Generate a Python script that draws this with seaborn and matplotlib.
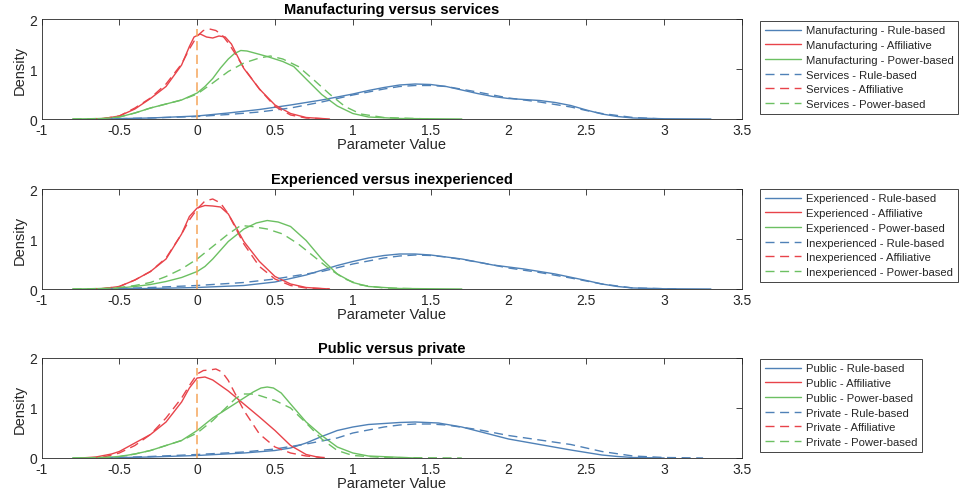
import matplotlib
matplotlib.use("Agg")
import matplotlib.pyplot as plt
import seaborn as sns
import pandas as pd

# ---------------- data ----------------
panel_titles = ["Manufacturing versus services",
                "Experienced versus inexperienced",
                "Public versus private"]
group_a = ["Manufacturing", "Experienced", "Public"]
group_b = ["Services", "Inexperienced", "Private"]
styles = ["Rule-based", "Affiliative", "Power-based"]

x_ticks = [-1, -0.5, 0, 0.5, 1, 1.5, 2, 2.5, 3, 3.5]
x_tick_labels = ["-1", "-0.5", "0", "0.5", "1", "1.5", "2", "2.5", "3", "3.5"]
y_ticks = [0, 1, 2]
zero_line_x = [0, 0]
zero_line_y = [0, 1.8]

# Panel 1 : Manufacturing (solid) vs Services (dashed)
p1_a_rule_x = [-0.6, -0.3, 0, 0.2, 0.4, 0.6, 0.8, 1.0, 1.1, 1.2, 1.3, 1.4, 1.5, 1.6, 1.7, 1.8, 1.9, 2.0, 2.1, 2.2, 2.3, 2.4, 2.5, 2.6, 2.7, 2.8, 3.0, 3.3]
p1_a_rule_y = [0, 0.02, 0.06, 0.12, 0.19, 0.28, 0.38, 0.5, 0.57, 0.63, 0.68, 0.7, 0.69, 0.65, 0.58, 0.51, 0.45, 0.41, 0.39, 0.37, 0.33, 0.27, 0.18, 0.1, 0.05, 0.02, 0.005, 0]
p1_b_rule_x = [-0.6, -0.3, 0, 0.2, 0.4, 0.6, 0.8, 1.0, 1.2, 1.3, 1.4, 1.5, 1.6, 1.8, 2.0, 2.2, 2.4, 2.5, 2.6, 2.8, 3.0]
p1_b_rule_y = [0, 0.02, 0.05, 0.09, 0.14, 0.22, 0.34, 0.48, 0.6, 0.65, 0.67, 0.67, 0.65, 0.54, 0.42, 0.34, 0.24, 0.17, 0.11, 0.03, 0]
p1_a_aff_x = [-0.7, -0.6, -0.5, -0.4, -0.3, -0.2, -0.1, -0.05, -0.02, 0.02, 0.06, 0.1, 0.14, 0.18, 0.22, 0.26, 0.3, 0.4, 0.5, 0.6, 0.7, 0.85]
p1_a_aff_y = [0, 0.01, 0.06, 0.2, 0.41, 0.65, 1.08, 1.45, 1.64, 1.7, 1.64, 1.62, 1.66, 1.64, 1.5, 1.25, 1.01, 0.6, 0.28, 0.11, 0.03, 0]
p1_b_aff_x = [-0.7, -0.6, -0.5, -0.4, -0.3, -0.2, -0.1, -0.05, 0, 0.04, 0.08, 0.12, 0.16, 0.2, 0.25, 0.3, 0.4, 0.5, 0.6, 0.7, 0.85]
p1_b_aff_y = [0, 0.01, 0.06, 0.22, 0.42, 0.7, 1.1, 1.4, 1.66, 1.77, 1.8, 1.77, 1.68, 1.52, 1.28, 1.02, 0.6, 0.25, 0.08, 0.02, 0]
p1_a_pow_x = [-0.8, -0.6, -0.5, -0.4, -0.3, -0.2, -0.1, 0, 0.05, 0.1, 0.15, 0.2, 0.24, 0.28, 0.32, 0.38, 0.45, 0.55, 0.62, 0.7, 0.8, 0.9, 1.0, 1.1, 1.3, 1.7]
p1_a_pow_y = [0, 0.01, 0.04, 0.12, 0.22, 0.3, 0.38, 0.52, 0.65, 0.81, 1.02, 1.2, 1.31, 1.37, 1.36, 1.31, 1.25, 1.15, 1.05, 0.8, 0.49, 0.26, 0.11, 0.04, 0.01, 0]
p1_b_pow_x = [-0.8, -0.6, -0.5, -0.4, -0.3, -0.2, -0.1, 0, 0.1, 0.2, 0.3, 0.4, 0.47, 0.55, 0.65, 0.75, 0.85, 0.95, 1.05, 1.2, 1.5]
p1_b_pow_y = [0, 0.01, 0.04, 0.12, 0.22, 0.3, 0.38, 0.5, 0.72, 0.95, 1.12, 1.22, 1.26, 1.2, 1.05, 0.78, 0.5, 0.25, 0.1, 0.03, 0]

# Panel 2 : Experienced (solid) vs Inexperienced (dashed)
p2_a_rule_x = [-0.6, -0.3, 0, 0.3, 0.5, 0.7, 0.9, 1.0, 1.1, 1.2, 1.3, 1.4, 1.5, 1.7, 1.9, 2.1, 2.3, 2.5, 2.6, 2.7, 2.8, 3.0, 3.3]
p2_a_rule_y = [0, 0.01, 0.03, 0.07, 0.14, 0.28, 0.47, 0.55, 0.62, 0.67, 0.7, 0.7, 0.68, 0.6, 0.48, 0.4, 0.3, 0.17, 0.1, 0.05, 0.02, 0.005, 0]
p2_b_rule_x = [-0.6, -0.3, 0, 0.3, 0.5, 0.8, 1.0, 1.2, 1.3, 1.4, 1.5, 1.6, 1.8, 2.0, 2.2, 2.4, 2.6, 2.8, 3.1]
p2_b_rule_y = [0, 0.03, 0.07, 0.13, 0.2, 0.35, 0.5, 0.62, 0.66, 0.68, 0.67, 0.64, 0.54, 0.42, 0.33, 0.22, 0.1, 0.02, 0]
p2_a_aff_x = [-0.7, -0.6, -0.5, -0.4, -0.3, -0.2, -0.1, -0.05, 0, 0.05, 0.1, 0.15, 0.2, 0.25, 0.3, 0.4, 0.5, 0.6, 0.7, 0.85]
p2_a_aff_y = [0, 0.01, 0.05, 0.18, 0.35, 0.6, 1.1, 1.45, 1.62, 1.67, 1.66, 1.64, 1.5, 1.23, 0.95, 0.55, 0.25, 0.1, 0.03, 0]
p2_b_aff_x = [-0.7, -0.6, -0.5, -0.4, -0.3, -0.2, -0.1, -0.05, 0, 0.05, 0.1, 0.15, 0.2, 0.25, 0.3, 0.4, 0.5, 0.6, 0.7, 0.85]
p2_b_aff_y = [0, 0.01, 0.05, 0.18, 0.35, 0.62, 1.1, 1.38, 1.6, 1.76, 1.8, 1.72, 1.5, 1.2, 0.9, 0.45, 0.2, 0.07, 0.02, 0]
p2_a_pow_x = [-0.8, -0.6, -0.5, -0.4, -0.3, -0.2, -0.1, 0, 0.05, 0.1, 0.2, 0.3, 0.38, 0.45, 0.52, 0.6, 0.7, 0.8, 0.9, 1.0, 1.1, 1.3, 1.7]
p2_a_pow_y = [0, 0.01, 0.02, 0.05, 0.09, 0.15, 0.23, 0.35, 0.45, 0.6, 0.95, 1.2, 1.32, 1.37, 1.34, 1.25, 0.97, 0.6, 0.3, 0.13, 0.05, 0.01, 0]
p2_b_pow_x = [-0.8, -0.6, -0.5, -0.4, -0.3, -0.2, -0.1, 0, 0.1, 0.2, 0.28, 0.35, 0.45, 0.55, 0.65, 0.75, 0.85, 0.95, 1.05, 1.2, 1.5]
p2_b_pow_y = [0, 0.01, 0.03, 0.07, 0.13, 0.25, 0.4, 0.6, 0.85, 1.1, 1.27, 1.25, 1.2, 1.1, 0.9, 0.65, 0.4, 0.2, 0.08, 0.02, 0]

# Panel 3 : Public (solid) vs Private (dashed)
p3_a_rule_x = [-0.6, -0.3, 0, 0.3, 0.5, 0.6, 0.7, 0.8, 0.9, 1.0, 1.1, 1.2, 1.3, 1.4, 1.55, 1.7, 1.85, 2.0, 2.2, 2.4, 2.5, 2.6, 2.7, 2.8, 3.0]
p3_a_rule_y = [0, 0.02, 0.05, 0.1, 0.15, 0.2, 0.3, 0.43, 0.55, 0.62, 0.67, 0.69, 0.71, 0.72, 0.7, 0.62, 0.5, 0.38, 0.27, 0.16, 0.11, 0.06, 0.03, 0.01, 0]
p3_b_rule_x = [-0.6, -0.3, 0, 0.3, 0.5, 0.7, 0.9, 1.0, 1.2, 1.3, 1.4, 1.5, 1.6, 1.8, 2.0, 2.2, 2.4, 2.6, 2.8, 3.0, 3.25]
p3_b_rule_y = [0, 0.03, 0.07, 0.12, 0.18, 0.28, 0.4, 0.5, 0.62, 0.66, 0.68, 0.68, 0.66, 0.57, 0.45, 0.36, 0.27, 0.13, 0.04, 0.01, 0]
p3_a_aff_x = [-0.75, -0.65, -0.55, -0.5, -0.4, -0.3, -0.2, -0.1, -0.05, 0, 0.05, 0.1, 0.2, 0.3, 0.4, 0.5, 0.6, 0.7, 0.8]
p3_a_aff_y = [0, 0.02, 0.08, 0.13, 0.3, 0.47, 0.72, 1.12, 1.4, 1.6, 1.62, 1.56, 1.34, 1.08, 0.82, 0.55, 0.25, 0.07, 0]
p3_b_aff_x = [-0.7, -0.6, -0.5, -0.4, -0.3, -0.2, -0.1, -0.05, 0, 0.04, 0.08, 0.12, 0.16, 0.2, 0.25, 0.3, 0.4, 0.5, 0.6, 0.7, 0.85]
p3_b_aff_y = [0, 0.02, 0.1, 0.25, 0.47, 0.8, 1.2, 1.45, 1.68, 1.75, 1.76, 1.78, 1.72, 1.55, 1.25, 0.95, 0.48, 0.22, 0.1, 0.04, 0]
p3_a_pow_x = [-0.8, -0.6, -0.5, -0.4, -0.3, -0.2, -0.1, 0, 0.1, 0.2, 0.3, 0.36, 0.41, 0.45, 0.49, 0.54, 0.6, 0.7, 0.8, 0.9, 1.0, 1.1, 1.4]
p3_a_pow_y = [0, 0.01, 0.03, 0.08, 0.15, 0.25, 0.35, 0.55, 0.8, 1.0, 1.2, 1.32, 1.4, 1.42, 1.4, 1.3, 1.08, 0.72, 0.45, 0.22, 0.1, 0.04, 0]
p3_b_pow_x = [-0.8, -0.6, -0.5, -0.4, -0.3, -0.2, -0.1, 0, 0.1, 0.2, 0.25, 0.3, 0.35, 0.4, 0.5, 0.6, 0.7, 0.8, 0.9, 1.0, 1.2, 1.7]
p3_b_pow_y = [0, 0.01, 0.03, 0.08, 0.15, 0.25, 0.35, 0.5, 0.75, 1.05, 1.2, 1.28, 1.28, 1.25, 1.15, 1.0, 0.7, 0.38, 0.15, 0.05, 0.01, 0]

panels = [
    [(p1_a_rule_x, p1_a_rule_y), (p1_a_aff_x, p1_a_aff_y), (p1_a_pow_x, p1_a_pow_y),
     (p1_b_rule_x, p1_b_rule_y), (p1_b_aff_x, p1_b_aff_y), (p1_b_pow_x, p1_b_pow_y)],
    [(p2_a_rule_x, p2_a_rule_y), (p2_a_aff_x, p2_a_aff_y), (p2_a_pow_x, p2_a_pow_y),
     (p2_b_rule_x, p2_b_rule_y), (p2_b_aff_x, p2_b_aff_y), (p2_b_pow_x, p2_b_pow_y)],
    [(p3_a_rule_x, p3_a_rule_y), (p3_a_aff_x, p3_a_aff_y), (p3_a_pow_x, p3_a_pow_y),
     (p3_b_rule_x, p3_b_rule_y), (p3_b_aff_x, p3_b_aff_y), (p3_b_pow_x, p3_b_pow_y)],
]

# ---------------- styling ----------------
sns.set_theme(style="white")
plt.rcParams["font.family"] = ["Liberation Sans", "DejaVu Sans"]
plt.rcParams["axes.unicode_minus"] = False
plt.rcParams["lines.solid_joinstyle"] = "round"

colors = ["#4f81b7", "#e8434a", "#6cc062"]
zero_color = "#f5a65b"
dash = (0, (6.5, 4))

W, H = 963, 502
fig = plt.figure(figsize=(W / 100, H / 100), dpi=100)

ax_left, ax_right = 41.5, 742.0
ax_tops = [20, 190, 359]
ax_h = 100
legend_tops = [22, 190, 360]

for i in range(3):
    top = ax_tops[i]
    ax = fig.add_axes([ax_left / W, 1 - (top + ax_h) / H, (ax_right - ax_left) / W, ax_h / H])
    labels = [f"{group_a[i]} - {s}" for s in styles] + [f"{group_b[i]} - {s}" for s in styles]
    for j, (xs, ys) in enumerate(panels[i]):
        df = pd.DataFrame({"x": xs, "y": ys})
        sns.lineplot(data=df, x="x", y="y", ax=ax, color=colors[j % 3], lw=1.0,
                     linestyle="-" if j < 3 else dash, estimator=None, sort=False,
                     label=labels[j])
    sns.lineplot(x=zero_line_x, y=zero_line_y, ax=ax, color=zero_color, lw=1.1,
                 linestyle=(0, (6, 3)), estimator=None, sort=False, legend=False)
    ax.set_xlim(-1, 3.5)
    ax.set_ylim(0, 2)
    ax.set_xticks(x_ticks)
    ax.set_xticklabels(x_tick_labels)
    ax.set_yticks(y_ticks)
    ax.set_yticklabels([str(t) for t in y_ticks])
    ax.tick_params(direction="in", top=True, right=True, length=4, width=0.6,
                   labelsize=10, color="#262626", labelcolor="#262626", pad=3)
    for sp in ax.spines.values():
        sp.set_color("#262626")
        sp.set_linewidth(0.6)
    ax.set_title(panel_titles[i], fontsize=10.5, fontweight="bold", pad=4, color="black")
    ax.set_xlabel("Parameter Value", fontsize=10.5, labelpad=0, color="#262626")
    ax.set_ylabel("Density", fontsize=10.5, labelpad=2, color="#262626")
    leg = ax.legend(loc="upper left", bbox_to_anchor=(760 / W, 1 - legend_tops[i] / H),
                    bbox_transform=fig.transFigure, borderaxespad=0, fontsize=8.1,
                    frameon=True, fancybox=False, framealpha=1, edgecolor="#262626",
                    handlelength=3.2, handletextpad=0.5, labelspacing=0.42,
                    borderpad=0.4)
    leg.get_frame().set_linewidth(0.6)

fig.savefig("out.png", dpi=100)
